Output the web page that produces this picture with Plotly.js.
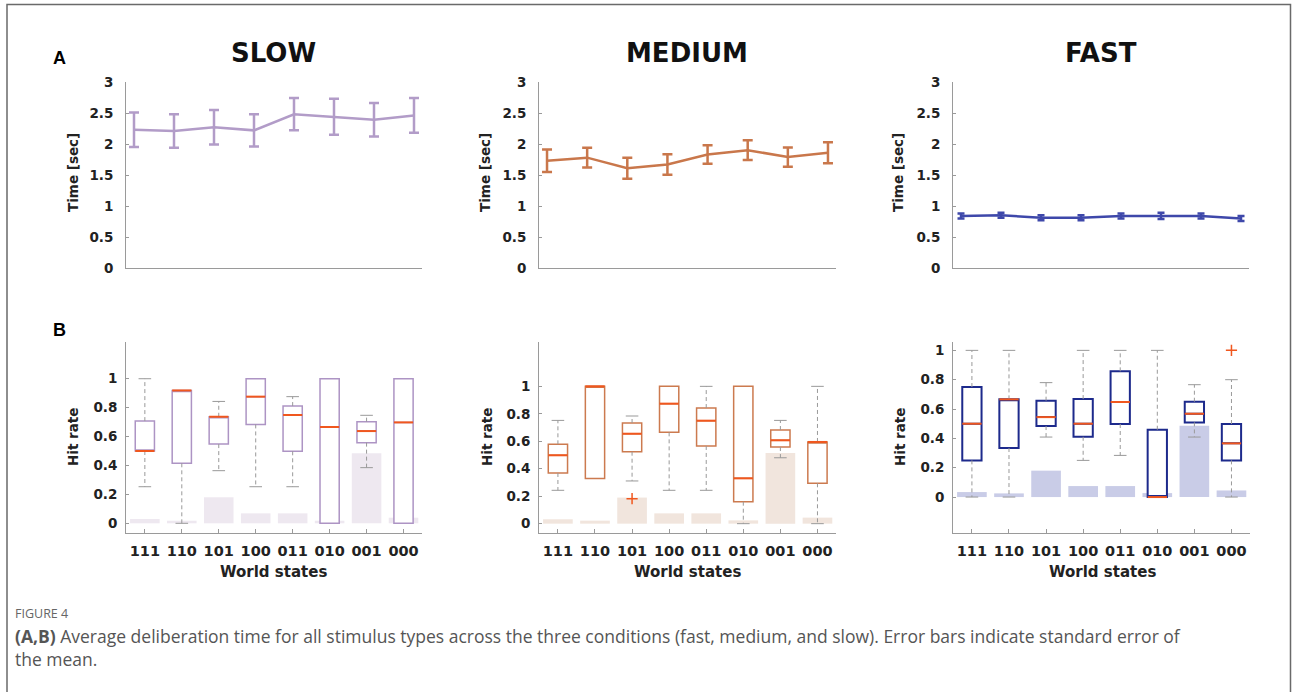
<!DOCTYPE html>
<html>
<head>
<meta charset="utf-8">
<script src="https://cdn.plot.ly/plotly-3.0.1.min.js"></script>
<style>
html,body{margin:0;padding:0;background:#fff;}
#chart{width:1293px;height:692px;}
</style>
</head>
<body>
<div id="chart"></div>
<script>
// ---------- DATA ----------
const categories = ['111','110','101','100','011','010','001','000'];
const positions = [1,2,3,4,5,6,7,8];

// Panel A: mean deliberation time (sec) and SEM
const slowTime = [2.23,2.21,2.27,2.22,2.48,2.44,2.39,2.46];
const slowSem  = [0.28,0.27,0.28,0.26,0.26,0.29,0.27,0.28];
const medTime  = [1.73,1.78,1.61,1.67,1.83,1.90,1.79,1.86];
const medSem   = [0.18,0.16,0.17,0.165,0.15,0.16,0.155,0.17];
const fastTime = [0.84,0.85,0.81,0.81,0.84,0.84,0.84,0.80];
const fastSem  = [0.04,0.04,0.04,0.04,0.04,0.05,0.04,0.04];

// Panel B: hit-rate box statistics
const slowQ1  = [0.50,0.415,0.548,0.684,0.498,0.0,0.558,0.0];
const slowMed = [0.50,0.919,0.737,0.876,0.749,0.666,0.638,0.698];
const slowQ3  = [0.707,0.919,0.737,1.0,0.811,1.0,0.703,1.0];
const slowLo  = [0.253,0.0,0.364,0.253,0.253,0.0,0.385,0.0];
const slowHi  = [1.0,0.919,0.843,1.0,0.876,1.0,0.747,1.0];
const slowBars = [0.03,0.018,0.18,0.069,0.069,0.018,0.484,0.039];
const slowOutX = [];
const slowOutY = [];

const medQ1  = [0.369,0.328,0.524,0.665,0.566,0.16,0.558,0.294];
const medMed = [0.498,1.0,0.655,0.874,0.75,0.33,0.607,0.595];
const medQ3  = [0.578,1.0,0.733,1.0,0.842,1.0,0.682,0.595];
const medLo  = [0.243,0.328,0.311,0.243,0.243,0.0,0.48,0.0];
const medHi  = [0.752,1.0,0.784,1.0,1.0,1.0,0.752,1.0];
const medBars = [0.032,0.022,0.19,0.075,0.075,0.024,0.515,0.044];
const medOutX = [3];
const medOutY = [0.182];

const fastQ1  = [0.25,0.334,0.484,0.411,0.498,0.0,0.509,0.25];
const fastMed = [0.5,0.666,0.545,0.5,0.648,0.0,0.568,0.366];
const fastQ3  = [0.75,0.666,0.657,0.668,0.857,0.459,0.65,0.498];
const fastLo  = [0.0,0.0,0.409,0.25,0.284,0.0,0.409,0.0];
const fastHi  = [1.0,1.0,0.78,1.0,1.0,1.0,0.766,0.8];
const fastBars = [0.034,0.025,0.18,0.075,0.075,0.027,0.486,0.045];
const fastOutX = [8];
const fastOutY = [1.0];

const timeTicks = [0,0.5,1,1.5,2,2.5,3];
const hitTicks = [0,0.2,0.4,0.6,0.8,1];

// ---------- STYLE ----------
const W = 1293, H = 692;
const px = x => x / W;
const py = y => 1 - y / H;
const axisGray = '#9a9a9a';
const tickFont = {family:'DejaVu Sans', size:13.5, color:'#222', weight:700};
const medianColor = '#f0571e';
const boxHalf = 0.26;

const conds = [
  {name:'SLOW', time:slowTime, sem:slowSem, q1:slowQ1, med:slowMed, q3:slowQ3, lo:slowLo, hi:slowHi, bars:slowBars, ox:slowOutX, oy:slowOutY,
   line:'#b29cc8', box:'#ad94c4', boxW:1.5, barColor:'#eee8f0', capW:5, xd:[126,422], xdB:[126,422], rangeB:[-0.067,1.254], cx:273},
  {name:'MEDIUM', time:medTime, sem:medSem, q1:medQ1, med:medMed, q3:medQ3, lo:medLo, hi:medHi, bars:medBars, ox:medOutX, oy:medOutY,
   line:'#c9774b', box:'#cc7a4f', boxW:1.5, barColor:'#f1e5dd', capW:5, xd:[539,836], xdB:[539,836], rangeB:[-0.068,1.323], cx:687},
  {name:'FAST', time:fastTime, sem:fastSem, q1:fastQ1, med:fastMed, q3:fastQ3, lo:fastLo, hi:fastHi, bars:fastBars, ox:fastOutX, oy:fastOutY,
   line:'#3e48aa', box:'#1d2a8c', boxW:2, barColor:'#c9cce7', capW:3.5, xd:[953,1249], xdB:[953,1250], rangeB:[-0.245,1.057], cx:1101}
];

const data = [];
const layout = {
  width: W, height: H,
  margin:{l:0,r:0,t:0,b:0},
  paper_bgcolor:'#fff', plot_bgcolor:'#fff',
  showlegend:false,
  font:{family:'DejaVu Sans', color:'#222'},
  annotations:[], shapes:[]
};

conds.forEach((c, k) => {
  const iTop = k + 1, iBot = k + 4;
  const xa = 'x' + (iTop === 1 ? '' : iTop), ya = 'y' + (iTop === 1 ? '' : iTop);
  const xb = 'x' + iBot, yb = 'y' + iBot;

  // Top: line with error bars
  data.push({
    type:'scatter', mode:'lines', x:positions, y:c.time, xaxis:xa, yaxis:ya,
    line:{color:c.line, width:2.5},
    error_y:{type:'data', array:c.sem, visible:true, color:c.line, thickness:2.5, width:c.capW},
    hoverinfo:'skip'
  });

  // Bottom: background bars
  data.push({
    type:'bar', x:positions, y:c.bars, xaxis:xb, yaxis:yb, width:0.8,
    marker:{color:c.barColor, line:{width:0}}, hoverinfo:'skip'
  });

  // whiskers (dashed) and caps
  const wx = [], wy = [], cxs = [], cys = [];
  positions.forEach((p, i) => {
    if (c.hi[i] > c.q3[i]) { wx.push(p, p, null); wy.push(c.q3[i], c.hi[i], null); cxs.push(p); cys.push(c.hi[i]); }
    if (c.lo[i] < c.q1[i]) { wx.push(p, p, null); wy.push(c.q1[i], c.lo[i], null); cxs.push(p); cys.push(c.lo[i]); }
  });
  data.push({
    type:'scatter', mode:'lines', x:wx, y:wy, xaxis:xb, yaxis:yb,
    line:{color:'#999', width:1, dash:'4px,3px'}, hoverinfo:'skip'
  });
  data.push({
    type:'scatter', mode:'markers', x:cxs, y:cys, xaxis:xb, yaxis:yb,
    marker:{symbol:'line-ew', size:9, color:'#999', line:{color:'#999', width:1}}, hoverinfo:'skip'
  });

  // boxes
  data.push({
    type:'box', x:positions, q1:c.q1, median:c.med, q3:c.q3, xaxis:xb, yaxis:yb,
    width: boxHalf * 2, fillcolor:'#ffffff', line:{color:c.box, width:c.boxW},
    whiskerwidth:0, boxpoints:false, hoverinfo:'skip'
  });

  // medians
  const mx = [], my = [];
  positions.forEach((p, i) => { mx.push(p - boxHalf, p + boxHalf, null); my.push(c.med[i], c.med[i], null); });
  data.push({
    type:'scatter', mode:'lines', x:mx, y:my, xaxis:xb, yaxis:yb,
    line:{color:medianColor, width:2}, hoverinfo:'skip'
  });

  // outliers
  if (c.ox.length) {
    data.push({
      type:'scatter', mode:'markers', x:c.ox, y:c.oy, xaxis:xb, yaxis:yb,
      marker:{symbol:'cross-thin', size:8, color:medianColor, line:{color:medianColor, width:1.5}}, hoverinfo:'skip'
    });
  }

  // axes
  layout['xaxis' + (iTop === 1 ? '' : iTop)] = {
    domain:[px(c.xd[0]), px(c.xd[1])], range:[0.8, 8.2], anchor:ya,
    showline:true, linecolor:axisGray, linewidth:1, showgrid:false, zeroline:false,
    ticks:'', showticklabels:false, fixedrange:true
  };
  layout['yaxis' + (iTop === 1 ? '' : iTop)] = {
    domain:[py(268), py(82)], range:[0, 3], anchor:xa,
    showline:true, linecolor:axisGray, linewidth:1, showgrid:false, zeroline:false,
    tickvals:timeTicks, ticktext:timeTicks.map(String), ticks:'inside', ticklen:3, tickcolor:axisGray,
    tickfont:tickFont, ticklabelstandoff:9, fixedrange:true
  };
  layout['xaxis' + iBot] = {
    domain:[px(c.xdB[0]), px(c.xdB[1])], range:[0.49, 8.5], anchor:yb,
    showline:true, linecolor:axisGray, linewidth:1, showgrid:false, zeroline:false,
    tickvals:positions, ticktext:categories, ticks:'inside', ticklen:4, tickcolor:axisGray,
    tickfont:{family:'DejaVu Sans', size:14.5, color:'#222', weight:700}, ticklabelstandoff:5, fixedrange:true
  };
  layout['yaxis' + iBot] = {
    domain:[py(533), py(342)], range:c.rangeB, anchor:xb,
    showline:true, linecolor:axisGray, linewidth:1, showgrid:false, zeroline:false,
    tickvals:hitTicks, ticktext:hitTicks.map(String), ticks:'inside', ticklen:3, tickcolor:axisGray,
    tickfont:tickFont, ticklabelstandoff:5, fixedrange:true
  };

  // titles
  layout.annotations.push({
    xref:'paper', yref:'paper', x:px(c.cx), y:py(53), text:'<b>' + c.name + '</b>', showarrow:false,
    xanchor:'center', yanchor:'middle', font:{family:'DejaVu Sans', size:26, color:'#111', weight:900}
  });
  const ytX = [73, 485, 898][k];
  const hrX = [73, 487, 900][k];
  layout.annotations.push({
    xref:'paper', yref:'paper', x:px(ytX), y:py(173), text:'Time [sec]', textangle:-90, showarrow:false,
    xanchor:'center', yanchor:'middle', font:{family:'DejaVu Sans', size:13.5, color:'#222', weight:700}
  });
  layout.annotations.push({
    xref:'paper', yref:'paper', x:px(hrX), y:py(437), text:'Hit rate', textangle:-90, showarrow:false,
    xanchor:'center', yanchor:'middle', font:{family:'DejaVu Sans', size:13.5, color:'#222', weight:700}
  });
  layout.annotations.push({
    xref:'paper', yref:'paper', x:px([273,687,1102][k]), y:py(572), text:'World states', showarrow:false,
    xanchor:'center', yanchor:'middle', font:{family:'DejaVu Sans', size:15, color:'#222', weight:700}
  });
});

// panel letters
layout.annotations.push({xref:'paper', yref:'paper', x:px(51), y:py(58), text:'<b>A</b>', showarrow:false,
  xanchor:'left', yanchor:'middle', font:{family:'Liberation Sans', size:18, color:'#000'}});
layout.annotations.push({xref:'paper', yref:'paper', x:px(51), y:py(330), text:'<b>B</b>', showarrow:false,
  xanchor:'left', yanchor:'middle', font:{family:'Liberation Sans', size:18, color:'#000'}});

// caption
layout.annotations.push({xref:'paper', yref:'paper', x:px(13), y:py(613), text:'FIGURE 4', showarrow:false,
  xanchor:'left', yanchor:'middle', font:{family:'Open Sans', size:12.5, color:'#666'}});
layout.annotations.push({xref:'paper', yref:'paper', x:px(13), y:py(622), align:'left',
  text:'<b>(A,B)</b> Average deliberation time for all stimulus types across the three conditions (fast, medium, and slow). Error bars indicate standard error of<br>the mean.',
  showarrow:false, xanchor:'left', yanchor:'top', font:{family:'Open Sans', size:17.5, color:'#555'}});

// outer frame
layout.shapes.push({type:'rect', xref:'paper', yref:'paper', x0:px(7), x1:px(1290.5), y0:-0.05, y1:py(4.5),
  line:{color:'#6a6a6a', width:1.5}, fillcolor:'rgba(0,0,0,0)', layer:'below'});

Plotly.newPlot('chart', data, layout, {staticPlot:true, displayModeBar:false});
</script>
</body>
</html>
